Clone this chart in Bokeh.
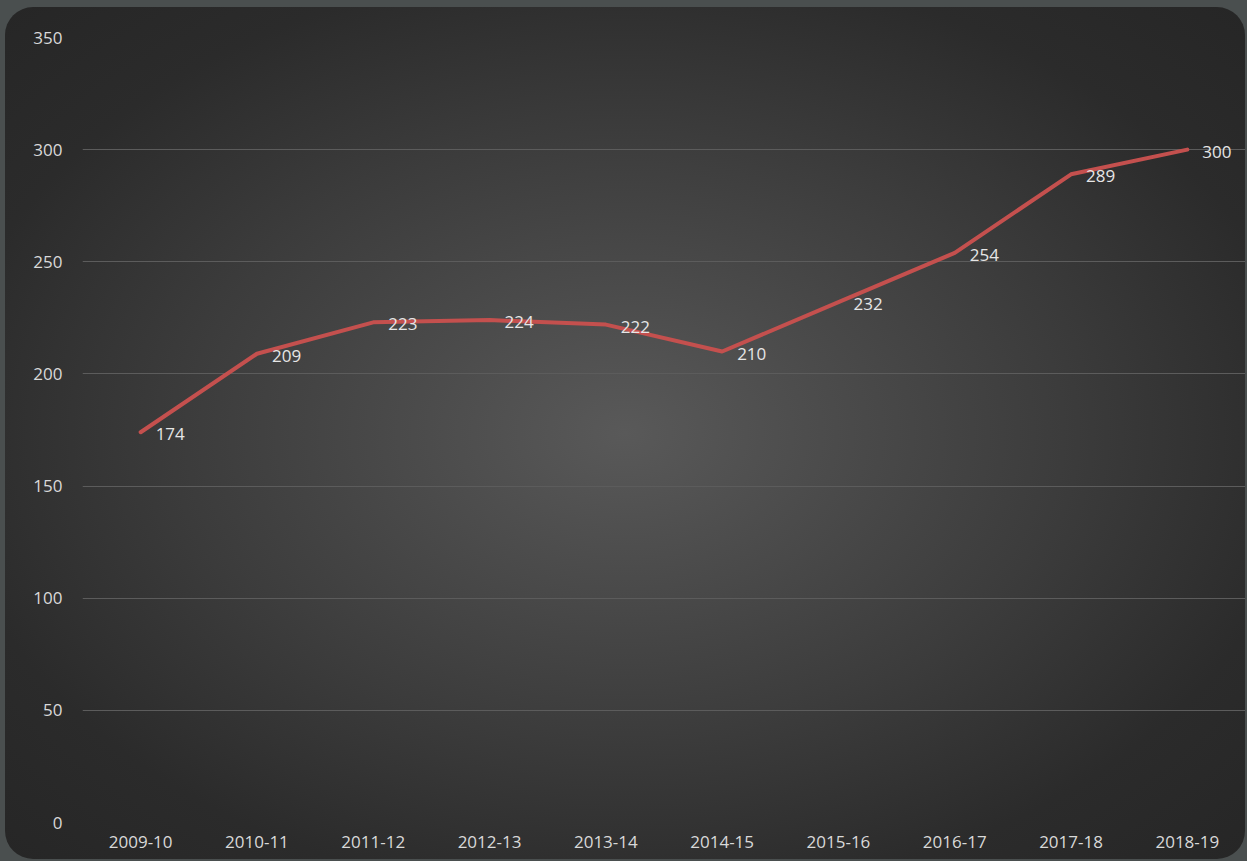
from bokeh.plotting import figure
from bokeh.models import FactorRange, Range1d, ColumnDataSource, FixedTicker
from bokeh.embed import file_html
from bokeh.resources import INLINE
from bokeh.core.properties import value

years = ["2009-10", "2010-11", "2011-12", "2012-13", "2013-14",
         "2014-15", "2015-16", "2016-17", "2017-18", "2018-19"]
counts = [174, 209, 223, 224, 222, 210, 232, 254, 289, 300]
labels = [str(c) for c in counts]
y_ticks = [0, 50, 100, 150, 200, 250, 300, 350]

FONT = "Open Sans"

src = ColumnDataSource(dict(x=years, y=counts, label=labels))

p = figure(x_range=FactorRange(factors=years, range_padding=0),
           y_range=Range1d(0, 350),
           width=1240, height=852,
           output_backend="svg", toolbar_location=None,
           min_border_left=77, min_border_right=0,
           min_border_top=30, min_border_bottom=37)

p.styles = {
    "background": "radial-gradient(ellipse at 50% 50%, #595959 0%, #3c3c3c 50%, #2b2b2b 78%, #262626 100%)",
    "border-radius": "28px",
    "overflow": "hidden",
    "margin-left": "5px",
    "margin-top": "7px",
}
p.background_fill_color = None
p.border_fill_color = None
p.outline_line_color = None

p.xgrid.grid_line_color = None
p.ygrid.grid_line_color = "#5c5c5c"
p.ygrid.grid_line_width = 1
p.yaxis.ticker = FixedTicker(ticks=y_ticks)

for ax in (p.xaxis[0], p.yaxis[0]):
    ax.axis_line_color = None
    ax.major_tick_line_color = None
    ax.minor_tick_line_color = None
    ax.major_tick_out = 0
    ax.major_tick_in = 0
    ax.major_label_text_color = "#d9d9d9"
    ax.major_label_text_font = FONT
    ax.major_label_text_font_size = "17px"

p.yaxis.major_label_standoff = 20
p.xaxis.major_label_standoff = 13

p.line("x", "y", source=src, line_color="#c4504e", line_width=4,
       line_join="round", line_cap="round")

p.text("x", "y", text="label", source=src, x_offset=15, y_offset=2,
       text_align="left", text_baseline="middle", text_color="#e6e6e6",
       text_font=value(FONT), text_font_size="17px")

html = file_html(p, INLINE)
html = html.replace("</head>", "<style>html, body { background-color: #4a4f4f; }</style></head>", 1)
open("out.html", "w").write(html)
